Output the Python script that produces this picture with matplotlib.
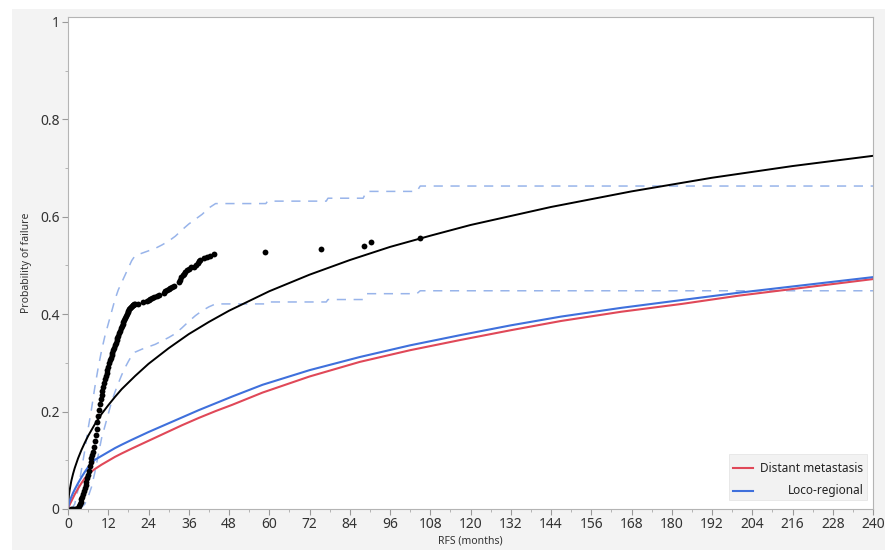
import matplotlib
matplotlib.use("Agg")
import matplotlib.pyplot as plt
from matplotlib.patches import Rectangle
from matplotlib.ticker import MultipleLocator

plt.rcParams['font.family'] = ['Noto Sans', 'DejaVu Sans']

# fitted curve (all failures)
fit_t = [0, 0.25, 0.5, 1, 1.5, 2, 3, 4, 5, 6, 7, 8, 10, 12, 14, 16, 20, 24, 30, 36,
         42, 48, 60, 72, 84, 96, 108, 120, 144, 168, 192, 216, 240]
fit_p = [0, 0.027, 0.039, 0.058, 0.072, 0.084, 0.104, 0.121, 0.136, 0.150, 0.162,
         0.174, 0.195, 0.213, 0.230, 0.246, 0.273, 0.298, 0.330, 0.359, 0.384,
         0.407, 0.447, 0.481, 0.511, 0.538, 0.561, 0.583, 0.620, 0.652, 0.680,
         0.704, 0.725]

# distant metastasis
dm_t = [0, 0.25, 0.5, 1, 1.5, 2, 3, 4, 5, 6, 7, 8, 10, 12, 14, 16, 19, 24, 29, 34,
        39, 44, 49, 58, 72, 87, 102, 117, 132, 147, 165, 183, 200, 220, 240]
dm_p = [0, 0.005, 0.009, 0.016, 0.023, 0.030, 0.042, 0.053, 0.063, 0.071, 0.077,
        0.082, 0.091, 0.099, 0.107, 0.114, 0.124, 0.140, 0.156, 0.172, 0.187,
        0.201, 0.214, 0.239, 0.272, 0.302, 0.326, 0.347, 0.367, 0.386, 0.405,
        0.421, 0.438, 0.455, 0.472]

# loco-regional
lr_t = [0, 0.25, 0.5, 1, 1.5, 2, 3, 4, 5, 6, 7, 8, 10, 12, 14, 16, 19, 24, 29, 34,
        39, 44, 49, 58, 72, 87, 102, 117, 132, 147, 165, 183, 200, 220, 240]
lr_p = [0, 0.010, 0.016, 0.025, 0.033, 0.040, 0.053, 0.065, 0.076, 0.086, 0.094,
        0.101, 0.109, 0.117, 0.125, 0.132, 0.142, 0.158, 0.173, 0.188, 0.203,
        0.217, 0.231, 0.255, 0.285, 0.312, 0.336, 0.357, 0.377, 0.395, 0.413,
        0.429, 0.444, 0.460, 0.476]

# nonparametric estimates (dots)
np_t = [1.0, 1.5, 2.0, 2.5, 3.0, 3.25, 3.5, 3.75, 4.0, 4.25, 4.5, 4.75, 5.0, 5.25,
        5.5, 5.75, 6.0, 6.25, 6.5, 6.75, 7.0, 7.25, 7.5, 7.75, 8.0, 8.25, 8.5,
        8.75, 9.0, 9.25, 9.5, 9.75, 10.0, 10.25, 10.5, 10.75, 11.0, 11.25, 11.5,
        11.75, 12.0, 12.25, 12.5, 12.75, 13.0, 13.25, 13.5, 13.75, 14.0, 14.25,
        14.5, 14.75, 15.0, 15.25, 15.5, 15.75, 16.0, 16.25, 16.5, 16.75, 17.0,
        17.25, 17.5, 17.75, 18.0, 18.25, 18.5, 18.75, 19.0, 19.25, 19.5, 19.75,
        20.0, 21.0, 22.5, 23.5, 24.0, 24.5, 25.0, 25.5, 26.5, 27.0, 28.5, 29.0,
        29.5, 30.0, 30.5, 31.0, 31.5, 33.0, 33.4, 33.8, 34.2, 34.6, 35.0, 35.5,
        36.0, 36.6, 37.5, 38.3, 38.7, 39.1, 39.5, 40.5, 41.4, 42.3, 43.6,
        58.8, 75.3, 88.2, 90.4, 105.0]
np_p = [0.0, 0.0, 0.0, 0.001, 0.003, 0.006, 0.010, 0.015, 0.020, 0.025, 0.031,
        0.037, 0.044, 0.050, 0.056, 0.063, 0.070, 0.079, 0.088, 0.097, 0.104,
        0.111, 0.118, 0.128, 0.140, 0.152, 0.165, 0.178, 0.190, 0.203, 0.215,
        0.226, 0.235, 0.243, 0.251, 0.258, 0.266, 0.273, 0.280, 0.286, 0.292,
        0.299, 0.305, 0.310, 0.316, 0.321, 0.326, 0.331, 0.336, 0.341, 0.346,
        0.351, 0.356, 0.361, 0.366, 0.371, 0.376, 0.380, 0.384, 0.388, 0.392,
        0.396, 0.400, 0.404, 0.407, 0.410, 0.413, 0.415, 0.417, 0.418, 0.419,
        0.420, 0.421, 0.421, 0.424, 0.427, 0.429, 0.431, 0.433, 0.435, 0.437,
        0.439, 0.444, 0.447, 0.449, 0.451, 0.453, 0.455, 0.457, 0.465, 0.470,
        0.476, 0.480, 0.483, 0.486, 0.490, 0.493, 0.496, 0.497, 0.501, 0.505,
        0.509, 0.512, 0.515, 0.517, 0.520, 0.523,
        0.528, 0.534, 0.540, 0.548, 0.556]

# confidence band
up_t = [1, 2, 3, 4, 5, 6, 7, 8, 9, 10, 11, 12, 13, 14, 15, 16, 17, 18, 19, 20, 22,
        24, 26, 28, 30, 32, 34, 36, 38, 40, 42, 44, 59, 59.5, 77, 77.5, 88, 89,
        104, 105, 240]
up_p = [0.0, 0.01, 0.04, 0.08, 0.12, 0.165, 0.205, 0.25, 0.29, 0.325, 0.355, 0.38,
        0.405, 0.43, 0.45, 0.465, 0.48, 0.495, 0.51, 0.52, 0.525, 0.53, 0.535,
        0.542, 0.55, 0.56, 0.573, 0.585, 0.595, 0.605, 0.618, 0.627, 0.627,
        0.632, 0.632, 0.638, 0.638, 0.652, 0.652, 0.663, 0.663]
lo_t = [3.5, 5, 6, 7, 8, 9, 10, 11, 12, 13, 14, 15, 16, 17, 18, 19, 20, 22, 24, 26,
        28, 30, 32, 34, 36, 38, 40, 42, 44, 59, 59.5, 77, 77.5, 88, 89, 104, 105,
        240]
lo_p = [0.0, 0.01, 0.025, 0.045, 0.075, 0.11, 0.145, 0.17, 0.195, 0.22, 0.24,
        0.258, 0.275, 0.29, 0.303, 0.315, 0.322, 0.328, 0.333, 0.338, 0.345,
        0.352, 0.36, 0.372, 0.385, 0.397, 0.407, 0.415, 0.421, 0.421, 0.425,
        0.425, 0.43, 0.43, 0.442, 0.442, 0.448, 0.448]

x_ticks = list(range(0, 241, 12))
y_ticks = [0, 0.2, 0.4, 0.6, 0.8, 1]
y_labels = ['0', '0.2', '0.4', '0.6', '0.8', '1']

fig = plt.figure(figsize=(8.85, 5.5), dpi=100, facecolor='white')
fig.patches.append(Rectangle((12 / 885, 0), 1, 1 - 9 / 550, transform=fig.transFigure,
                             facecolor='#f3f3f3', edgecolor='none', zorder=-1))
ax = fig.add_axes([68 / 885, 41 / 550, 805 / 885, 492 / 550])
ax.set_facecolor('white')

band_col = '#98b4ea'
ax.plot(up_t, up_p, color=band_col, lw=1.1, ls=(0, (6, 5)))
ax.plot(lo_t, lo_p, color=band_col, lw=1.1, ls=(0, (6, 5)))
ax.plot(fit_t, fit_p, color='black', lw=1.4)
ax.plot(dm_t, dm_p, color='#e04858', lw=1.5)
ax.plot(lr_t, lr_p, color='#3f70dc', lw=1.5)
ax.plot(np_t, np_p, 'o', color='black', ms=4.2, mec='none')

ax.set_xlim(0, 240)
ax.set_ylim(0, 1.01)
ax.set_xticks(x_ticks)
ax.xaxis.set_minor_locator(MultipleLocator(6))
ax.set_yticks(y_ticks)
ax.set_yticklabels(y_labels)
ax.yaxis.set_minor_locator(MultipleLocator(0.1))
ax.tick_params(axis='both', which='major', labelsize=10, length=4, color='#999999',
               labelcolor='#333333', pad=2)
ax.tick_params(axis='both', which='minor', length=2.5, color='#aaaaaa')
for s in ax.spines.values():
    s.set_color('#b4b4b4')

ax.set_xlabel('RFS (months)', fontsize=7.5, color='#333333', labelpad=2)
ax.set_ylabel('Probability of failure', fontsize=7.5, color='#333333', labelpad=6)

# legend drawn by hand so that labels are right aligned
ax.add_patch(Rectangle((0.821, 0.018), 0.171, 0.094, transform=ax.transAxes,
                       facecolor='#f2f2f2', edgecolor='#e6e6e6', lw=0.6, zorder=5))
ax.plot([0.826, 0.851], [0.083, 0.083], transform=ax.transAxes, color='#e04858',
        lw=1.5, zorder=6)
ax.plot([0.826, 0.851], [0.037, 0.037], transform=ax.transAxes, color='#3f70dc',
        lw=1.5, zorder=6)
ax.text(0.988, 0.083, 'Distant metastasis', transform=ax.transAxes, ha='right',
        va='center', fontsize=8.5, color='#222222', zorder=6)
ax.text(0.988, 0.037, 'Loco-regional', transform=ax.transAxes, ha='right',
        va='center', fontsize=8.5, color='#222222', zorder=6)

fig.savefig('out.png', dpi=100, facecolor=fig.get_facecolor())
